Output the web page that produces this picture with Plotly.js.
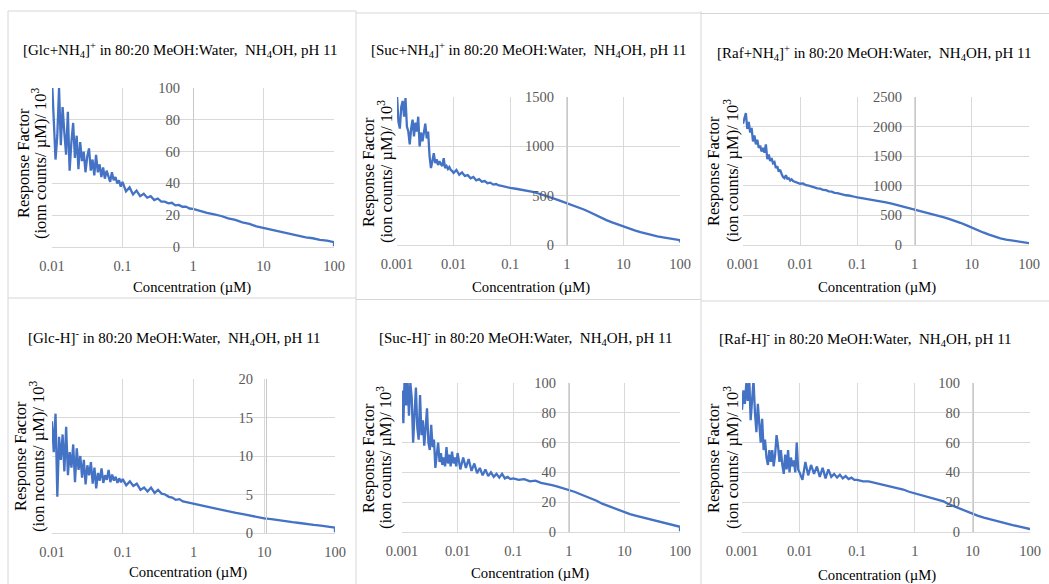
<!DOCTYPE html>
<html>
<head>
<meta charset="utf-8">
<script src="https://cdn.plot.ly/plotly-3.0.1.min.js"></script>
<style>
html,body{margin:0;padding:0;background:#fff;}
#chart{width:1049px;height:584px;}
</style>
</head>
<body>
<div id="chart"></div>
<script>
// ---------- DATA ----------
// concentration grid for the 0.01–100 µM panels (Glc)
const concGlc = [
  0.01, 0.01059, 0.01122, 0.01189, 0.01259, 0.01334, 0.01413, 0.01496, 0.01585, 0.01679,
  0.01778, 0.01884, 0.01995, 0.02113, 0.02239, 0.02371, 0.02512, 0.02661, 0.02818, 0.02985,
  0.03162, 0.0335, 0.03548, 0.03758, 0.03981, 0.04217, 0.04467, 0.04732, 0.05012, 0.05309,
  0.05623, 0.05957, 0.0631, 0.06683, 0.07079, 0.07499, 0.07943, 0.08414, 0.08913, 0.09441,
  0.1, 0.112, 0.126, 0.141, 0.158, 0.178, 0.2, 0.224, 0.251, 0.282,
  0.316, 0.355, 0.398, 0.447, 0.501, 0.562, 0.631, 0.708, 0.794, 0.891,
  1, 1.26, 1.58, 2, 2.51, 3.16, 3.98, 5.01, 6.31, 7.94,
  10, 12.6, 15.8, 20, 25.1, 31.6, 39.8, 50.1, 63.1, 79.4,
  100, 100
];
// concentration grid for the 0.001–100 µM panels (Suc, Raf)
const concSucRaf = [
  0.001, 0.001059, 0.001122, 0.001189, 0.001259, 0.001334, 0.001413, 0.001496, 0.001585, 0.001679,
  0.001778, 0.001884, 0.001995, 0.002113, 0.002239, 0.002371, 0.002512, 0.002661, 0.002818, 0.002985,
  0.003162, 0.00335, 0.003548, 0.003758, 0.003981, 0.004217, 0.004467, 0.004732, 0.005012, 0.005309,
  0.005623, 0.005957, 0.00631, 0.006683, 0.007079, 0.007499, 0.007943, 0.008414, 0.008913, 0.009441,
  0.01, 0.0112, 0.0126, 0.0141, 0.0158, 0.0178, 0.02, 0.0224, 0.0251, 0.0282,
  0.0316, 0.0355, 0.0398, 0.0447, 0.0501, 0.0562, 0.0631, 0.0708, 0.0794, 0.0891,
  0.1, 0.126, 0.158, 0.2, 0.251, 0.316, 0.398, 0.501, 0.631, 0.794,
  1, 1.26, 1.58, 2, 2.51, 3.16, 3.98, 5.01, 6.31, 7.94,
  10, 12.6, 15.8, 20, 25.1, 31.6, 39.8, 50.1, 63.1, 79.4,
  100, 100
];

const rfGlcNH4 = [
  105, 82, 55, 70, 100, 64, 88, 72, 58, 85,
  48, 66, 78, 56, 70, 49, 66, 54, 60, 47,
  57, 62, 48, 55, 45, 58, 47, 52, 44, 50,
  43, 48, 45, 41, 47, 42, 44, 40, 42, 38,
  41, 35, 37.5, 33, 35.5, 32, 33.5, 31, 32, 29.5,
  30.5, 28.5, 28.5, 27.5, 27.8, 26.2, 26.5, 25.3, 25.4, 24.2,
  24, 22.5, 21.5, 20.5, 19.5, 18, 17, 15.5, 14.5, 13,
  12, 11, 10, 9, 8, 7, 6, 5.5, 4.5, 4,
  3, 0.5
];
const rfSucNH4 = [
  1520, 1250, 1180, 1400, 1460, 1300, 1490, 1200, 1150, 1020,
  1180, 1270, 1100, 1240, 1150, 1300, 1000, 1140, 1050, 1170,
  1230, 1080, 1150, 900, 780, 850, 930, 830, 870, 810,
  850, 820, 800, 880, 780, 800, 770, 790, 760, 750,
  730, 760, 712, 735, 700, 708, 676, 690, 655, 668,
  642, 648, 626, 632, 612, 618, 603, 600, 592, 585,
  578, 570, 560, 550, 538, 522, 505, 485, 465, 445,
  425, 408, 388, 360, 335, 305, 278, 252, 230, 208,
  188, 168, 148, 130, 115, 100, 88, 78, 68, 58,
  50, 25
];
const rfRafNH4 = [
  2050, 2150, 2230, 1960, 2080, 1900, 1980, 1750, 1850, 1700,
  1780, 1640, 1680, 1580, 1640, 1560, 1700, 1450, 1530, 1420,
  1470, 1380, 1400, 1300, 1330, 1240, 1270, 1200, 1150, 1130,
  1180, 1120, 1130, 1090, 1110, 1080, 1070, 1060, 1050, 1040,
  1035, 1040, 1010, 1002, 985, 978, 955, 952, 930, 926,
  905, 902, 880, 876, 860, 856, 840, 836, 820, 815,
  805, 790, 775, 760, 740, 720, 700, 675, 650, 625,
  600, 578, 552, 525, 498, 470, 440, 410, 375, 335,
  290, 250, 212, 175, 140, 112, 92, 76, 62, 50,
  40, 30
];
const rfGlcH = [
  14.5, 10.5, 15.5, 4.7, 12.5, 9.5, 12.8, 8, 13.8, 7.5,
  10.5, 8.5, 11.5, 6.6, 11, 8.2, 10, 7.2, 9.5, 6.3,
  8.8, 7.5, 9.2, 6.4, 8.5, 5.8, 7.8, 6.8, 8.4, 6.5,
  7.5, 6.9, 8.2, 6.6, 7.6, 6.8, 7.3, 6.5, 7.1, 6.6,
  7, 6.2, 6.7, 6.1, 6.4, 5.6, 5.9, 5.4, 5.9, 5.2,
  5.6, 5.1, 5, 4.7, 4.6, 4.3, 4.4, 4.1, 4, 3.9,
  3.8, 3.55, 3.35, 3.15, 2.95, 2.8, 2.6, 2.45, 2.25, 2.05,
  1.9, 1.8, 1.65, 1.5, 1.4, 1.3, 1.15, 1.05, 0.95, 0.85,
  0.7, 0.1
];
const rfSucH = [
  95, 73, 108, 85, 102, 78, 100, 90, 60, 75,
  97, 70, 62, 92, 65, 75, 58, 70, 83, 60,
  55, 72, 57, 62, 43, 52, 60, 47, 53, 45,
  50, 44, 57, 46, 52, 44, 54, 46, 50, 44,
  53, 42, 50, 43, 49, 41, 46, 39.5, 43, 38,
  42, 37.5, 40, 37, 39, 36.5, 39, 36, 37, 35.5,
  36, 35, 35.5, 34, 34.5, 33, 32.5, 31.5, 30.5, 29.5,
  28.5, 27, 25.5, 24, 22.5, 21, 19, 17.5, 16, 14.5,
  13, 12, 11, 10, 9, 8, 7, 6, 5.2, 4.3,
  3.5, 0.5
];
const rfRafH = [
  82, 95, 86, 100, 88, 104, 75, 90, 102, 80,
  67, 86, 72, 60, 76, 55, 62, 50, 45, 55,
  47, 55, 44, 52, 65, 58, 47, 55, 45, 39,
  52, 42, 55, 40, 50, 44, 48, 40, 60, 42,
  40, 35, 47, 38, 45, 39, 44, 37, 43, 36,
  42, 37, 39, 36.5, 38.5, 36, 37.5, 35.5, 36.5, 35,
  35, 34, 34, 33, 32.5, 31.5, 30.5, 29.5, 28.5, 27,
  26, 25, 24, 23, 22, 20.5, 18.5, 17, 15.5, 13.5,
  12, 10.8, 9.6, 8.5, 7.4, 6.4, 5.5, 4.6, 3.8, 3,
  2, 1.5
];

const tickValsGlc = [0.01, 0.1, 1, 10, 100];
const tickTextGlc = ['0.01', '0.1', '1', '10', '100'];
const tickValsSucRaf = [0.001, 0.01, 0.1, 1, 10, 100];
const tickTextSucRaf = ['0.001', '0.01', '0.1', '1', '10', '100'];

const panelTitles = [
  '[Glc+NH<sub>4</sub>]<sup>+</sup> in 80:20 MeOH:Water,  NH<sub>4</sub>OH, pH 11',
  '[Suc+NH<sub>4</sub>]<sup>+</sup> in 80:20 MeOH:Water,  NH<sub>4</sub>OH, pH 11',
  '[Raf+NH<sub>4</sub>]<sup>+</sup> in 80:20 MeOH:Water,  NH<sub>4</sub>OH, pH 11',
  '[Glc-H]<sup>-</sup> in 80:20 MeOH:Water,  NH<sub>4</sub>OH, pH 11',
  '[Suc-H]<sup>-</sup> in 80:20 MeOH:Water,  NH<sub>4</sub>OH, pH 11',
  '[Raf-H]<sup>-</sup> in 80:20 MeOH:Water,  NH<sub>4</sub>OH, pH 11'
];
const yTitleLine1 = 'Response Factor';
const yTitleLine2 = [
  '(ionn counts/ µM)/ 10<sup>3</sup>',
  '(ion counts/ µM)/ 10<sup>3</sup>',
  '(ion counts/ µM)/ 10<sup>3</sup>',
  '(ion ncounts/ µM)/ 10<sup>3</sup>',
  '(ion counts/ µM)/ 10<sup>3</sup>',
  '(ion counts/ µM)/ 10<sup>3</sup>'
];
const xTitle = 'Concentration (µM)';
const yMax = [100, 1500, 2500, 20, 100, 100];
const yStep = [20, 500, 500, 5, 20, 20];

// ---------- LAYOUT (pixel geometry) ----------
const W = 1049, H = 584;
const fx = p => p / W;
const fy = p => 1 - p / H;
// plot areas: left, right, top, bottom (px); axis = x pixel of value axis
const boxes = [
  {l: 52,  r: 334,  t: 88,  b: 247, axis: 193, title: [180, 50],  yt: [23, 39, 163],  xt: [192, 287]},
  {l: 397, r: 680,  t: 97,  b: 245, axis: 567, title: [528, 50],  yt: [368, 385, 172], xt: [531, 287]},
  {l: 743, r: 1029, t: 97,  b: 245, axis: 915, title: [874, 53],  yt: [713, 731, 171], xt: [877, 287]},
  {l: 52,  r: 335,  t: 379, b: 533, axis: 266, title: [174, 338], yt: [20, 37, 456],  xt: [188, 572]},
  {l: 402, r: 680,  t: 383, b: 532, axis: 569, title: [525, 338], yt: [368, 384, 458], xt: [530, 573]},
  {l: 742, r: 1030, t: 383, b: 532, axis: 973, title: [865, 339], yt: [713, 731, 458], xt: [877, 575]}
];

const serif = 'Liberation Serif';
const series = [
  [concGlc, rfGlcNH4], [concSucRaf, rfSucNH4], [concSucRaf, rfRafNH4],
  [concGlc, rfGlcH], [concSucRaf, rfSucH], [concSucRaf, rfRafH]
];

const traces = [];
const layout = {
  width: W, height: H,
  margin: {l: 0, r: 0, t: 0, b: 0},
  paper_bgcolor: '#ffffff', plot_bgcolor: 'rgba(0,0,0,0)',
  showlegend: false,
  font: {family: serif, size: 14, color: '#000000'},
  annotations: [],
  shapes: []
};

series.forEach((s, i) => {
  const n = i + 1;
  const b = boxes[i];
  const isGlc = (i === 0 || i === 3);
  traces.push({
    x: s[0], y: s[1], type: 'scatter', mode: 'lines',
    xaxis: 'x' + n, yaxis: 'y' + n,
    line: {color: '#4472c4', width: 2.3},
    hoverinfo: 'skip'
  });
  layout['xaxis' + n] = {
    type: 'log',
    domain: [fx(b.l), fx(b.r)],
    range: [isGlc ? -2 : -3, 2],
    anchor: 'y' + n,
    tickvals: isGlc ? tickValsGlc : tickValsSucRaf,
    ticktext: isGlc ? tickTextGlc : tickTextSucRaf,
    ticks: '',
    showgrid: true, gridcolor: '#d9d9d9', gridwidth: 1,
    showline: true, linecolor: '#d9d9d9', linewidth: 1,
    zeroline: false,
    tickfont: {family: serif, size: 14.5, color: '#595959'},
    ticklabelstandoff: 6,
    fixedrange: true
  };
  layout['yaxis' + n] = {
    domain: [fy(b.b), fy(b.t)],
    range: [0, yMax[i]],
    dtick: yStep[i],
    tick0: 0,
    anchor: 'free',
    position: fx(b.axis),
    ticks: '',
    showgrid: true, gridcolor: '#d9d9d9', gridwidth: 1,
    showline: true, linecolor: '#c8c8c8', linewidth: 1,
    zeroline: false,
    tickfont: {family: serif, size: 14.5, color: '#595959'},
    ticklabelstandoff: 10,
    fixedrange: true
  };
  layout.annotations.push({
    xref: 'paper', yref: 'paper', x: fx(b.title[0]), y: fy(b.title[1]),
    xanchor: 'center', yanchor: 'middle', showarrow: false,
    text: panelTitles[i], font: {family: serif, size: 15, color: '#000000'}
  });
  layout.annotations.push({
    xref: 'paper', yref: 'paper', x: fx(b.yt[0]), y: fy(b.yt[2]),
    xanchor: 'center', yanchor: 'middle', showarrow: false, textangle: -90,
    text: yTitleLine1, font: {family: serif, size: 16.5, color: '#000000'}
  });
  layout.annotations.push({
    xref: 'paper', yref: 'paper', x: fx(b.yt[1]), y: fy(b.yt[2]),
    xanchor: 'center', yanchor: 'middle', showarrow: false, textangle: -90,
    text: yTitleLine2[i], font: {family: serif, size: 16.5, color: '#000000'}
  });
  layout.annotations.push({
    xref: 'paper', yref: 'paper', x: fx(b.xt[0]), y: fy(b.xt[1]),
    xanchor: 'center', yanchor: 'middle', showarrow: false,
    text: xTitle, font: {family: serif, size: 14.7, color: '#000000'}
  });
});

// panel frames
const frameLines = [
  [8, 11, 356, 11], [356, 13, 701, 13], [701, 13.5, 1049, 13.5],
  [8, 11, 8, 584], [356, 11, 356, 584], [701, 11, 701, 584],
  [8, 298, 356, 298], [356, 299.5, 701, 299.5], [701, 301, 1049, 301]
];
frameLines.forEach(f => {
  layout.shapes.push({
    type: 'line', xref: 'paper', yref: 'paper',
    x0: fx(f[0]), y0: fy(f[1]), x1: fx(f[2]), y1: fy(f[3]),
    line: {color: '#d6d6d6', width: 1}, layer: 'below'
  });
});

Plotly.newPlot('chart', traces, layout, {staticPlot: true, displayModeBar: false});
</script>
</body>
</html>
